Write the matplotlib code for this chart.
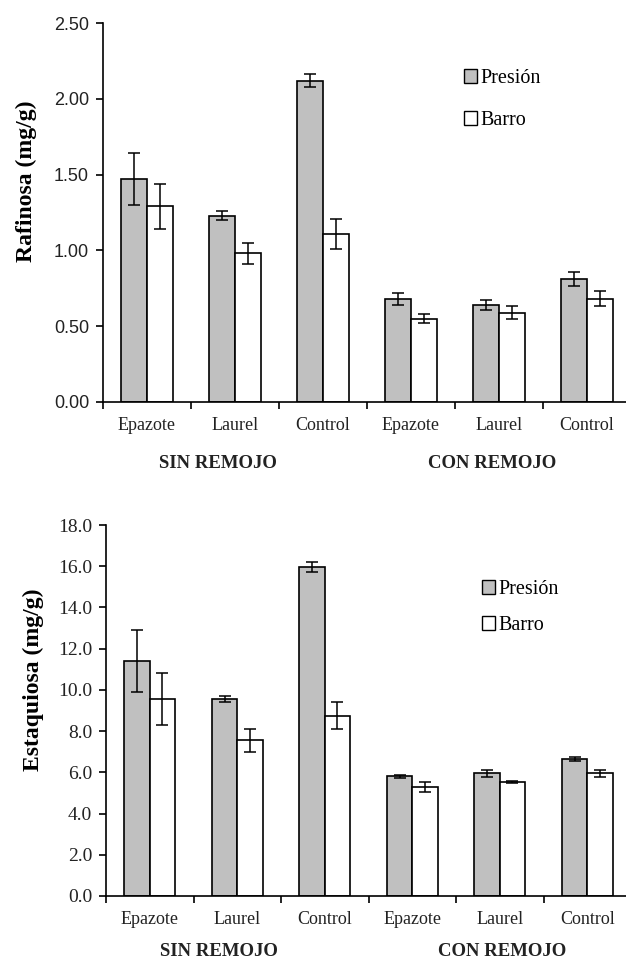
import matplotlib.pyplot as plt
import numpy as np
from matplotlib.patches import Patch

tratamientos = ["Epazote", "Laurel", "Control", "Epazote", "Laurel", "Control"]
grupos = ["SIN REMOJO", "CON REMOJO"]
series = ["Presión", "Barro"]

# Rafinosa (mg/g)
raf_presion = [1.47, 1.23, 2.12, 0.68, 0.64, 0.81]
raf_presion_err = [0.17, 0.03, 0.045, 0.04, 0.035, 0.045]
raf_barro = [1.29, 0.98, 1.11, 0.55, 0.59, 0.68]
raf_barro_err = [0.15, 0.07, 0.10, 0.03, 0.04, 0.05]

# Estaquiosa (mg/g)
est_presion = [11.4, 9.55, 15.95, 5.8, 5.95, 6.65]
est_presion_err = [1.5, 0.15, 0.25, 0.08, 0.17, 0.08]
est_barro = [9.55, 7.55, 8.75, 5.3, 5.55, 5.95]
est_barro_err = [1.27, 0.55, 0.65, 0.25, 0.05, 0.17]

serif = ["Liberation Serif", "DejaVu Serif"]
sans = ["Liberation Sans", "DejaVu Sans"]

fig = plt.figure(figsize=(6.26, 9.6), dpi=100)


def panel(rect, presion, p_err, barro, b_err, ymax, ystep, yfmt, ylabel,
          ytick_family, ytick_size, label_xy, legend_xy, legend_sp, group_xy):
    ax = fig.add_axes(rect)
    x = np.arange(len(tratamientos)) + 0.5
    w = 0.29
    ekw = dict(ecolor="black", elinewidth=1.1, capsize=4.3, capthick=1.1)
    ax.bar(x - w / 2, presion, w, yerr=p_err, color="#c0c0c0",
           edgecolor="black", linewidth=1.2, error_kw=ekw)
    ax.bar(x + w / 2, barro, w, yerr=b_err, color="white",
           edgecolor="black", linewidth=1.2, error_kw=ekw)

    ax.set_xlim(0, len(tratamientos))
    ax.set_ylim(0, ymax)
    ax.set_yticks(np.arange(0, ymax + ystep / 2, ystep))
    ax.set_yticklabels([yfmt % v for v in ax.get_yticks()],
                       family=ytick_family, fontsize=ytick_size,
                       color="#222222")
    ax.set_xticks(np.arange(len(tratamientos) + 1))
    ax.set_xticklabels([])
    ax.set_xticks(x, minor=True)
    ax.set_xticklabels(tratamientos, minor=True, family=serif, fontsize=13,
                       color="#222222")
    ax.tick_params(axis="x", which="minor", length=0, pad=11)
    ax.tick_params(axis="x", which="major", length=5, width=1.2,
                   direction="out")
    ax.tick_params(axis="y", length=5, width=1.2, direction="out", pad=5)

    for s in ["top", "right"]:
        ax.spines[s].set_visible(False)
    for s in ["left", "bottom"]:
        ax.spines[s].set_linewidth(1.2)

    ax.set_ylabel(ylabel, family=serif, fontsize=17, fontweight="bold")
    ax.yaxis.set_label_coords(*label_xy)

    handles = [Patch(facecolor="#c0c0c0", edgecolor="black", linewidth=1.0),
               Patch(facecolor="white", edgecolor="black", linewidth=1.0)]
    fig.legend(handles, series, loc="upper left", bbox_to_anchor=legend_xy,
               frameon=False, handlelength=0.65, handleheight=0.65,
               handletextpad=0.15, labelspacing=legend_sp,
               prop=dict(family=serif, size=14.5))

    for gx, name in zip(group_xy[0], grupos):
        fig.text(gx / 626, 1 - group_xy[1] / 960, name, ha="center",
                 va="center", family=serif, fontsize=13.5, fontweight="bold",
                 color="#222222")
    return ax


panel([103 / 626, 1 - 402 / 960, 528 / 626, 379 / 960],
      raf_presion, raf_presion_err, raf_barro, raf_barro_err,
      2.5, 0.5, "%.2f", "Rafinosa (mg/g)", sans, 13,
      (-0.125, 0.583), (446 / 626, 1 - 51 / 960), 1.15, ([218, 492], 463))

panel([106 / 626, 1 - 896 / 960, 525 / 626, 371 / 960],
      est_presion, est_presion_err, est_barro, est_barro_err,
      18, 2, "%.1f", "Estaquiosa (mg/g)", serif, 14,
      (-0.118, 0.582), (464 / 626, 1 - 562 / 960), 0.85, ([219, 502], 952))

fig.savefig("out.png", dpi=100)
